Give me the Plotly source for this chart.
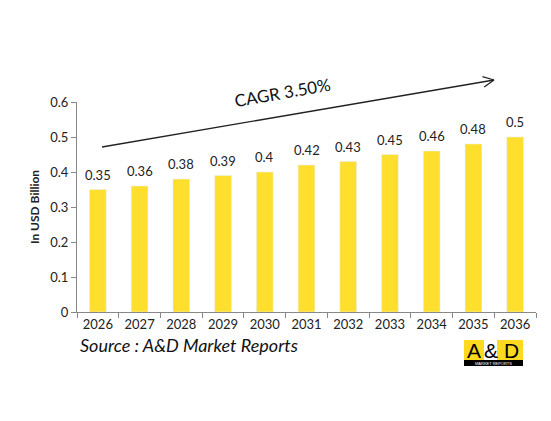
import math
import plotly.graph_objects as go

years = ['2026', '2027', '2028', '2029', '2030', '2031', '2032', '2033', '2034', '2035', '2036']
values = [0.35, 0.36, 0.38, 0.39, 0.4, 0.42, 0.43, 0.45, 0.46, 0.48, 0.5]
value_labels = ['0.35', '0.36', '0.38', '0.39', '0.4', '0.42', '0.43', '0.45', '0.46', '0.48', '0.5']

FONT = 'Lato'
# page body has an 8px margin, so the figure is shifted by it
OFF = 8
W, H = 551, 421
L, R, T, B = 77, 15, 102, 109
PW, PH = W - L - R, H - T - B


def px(x):
  return (x - L) / PW


def py(y):
  return (H - B - y) / PH


def line(x0, y0, x1, y1, width=1.3):
  fig.add_shape(type='line', xref='paper', yref='paper',
                x0=px(x0), y0=py(y0), x1=px(x1), y1=py(y1),
                line=dict(color='#222', width=width))


fig = go.Figure()
fig.add_bar(
  x=years,
  y=values,
  marker_color='#FFDF2E',
  hoverinfo='skip'
)

# value labels above the bars
for i, (v, lab) in enumerate(zip(values, value_labels)):
  fig.add_annotation(x=i, y=v, text=lab, showarrow=False, yshift=15,
                     xanchor='center', yanchor='middle',
                     font=dict(size=13, color='#222'))

fig.update_layout(
  width=W - OFF,
  height=H - OFF,
  margin=dict(l=L - OFF, r=R, t=T - OFF, b=B),
  plot_bgcolor='white',
  paper_bgcolor='white',
  bargap=0.6,
  showlegend=False,
  font=dict(family=FONT, color='#222'),
  xaxis=dict(
    type='category', showline=True, linecolor='#888', ticks='outside',
    tickson='boundaries', ticklen=5, tickcolor='#888', tickfont=dict(size=13)
  ),
  yaxis=dict(
    range=[0, 0.6], dtick=0.1, showgrid=False, showline=True, linecolor='#888',
    ticks='outside', ticklen=5, tickcolor='#888', tickfont=dict(size=13),
    tickformat='.1~f', zeroline=False,
    title=dict(text='<b>In USD Billion</b>', font=dict(size=12), standoff=8)
  )
)

# CAGR arrow with an open head
sx, sy, ex, ey = 102, 147, 494, 80
line(sx, sy, ex, ey)
ang = math.atan2(sy - ey, sx - ex)
for d in (0.45, -0.45):
  line(ex, ey, ex + 12 * math.cos(ang + d), ey + 12 * math.sin(ang + d))

fig.add_annotation(
  xref='paper', yref='paper', x=px(282), y=py(93), text='CAGR 3.50%',
  xanchor='center', yanchor='middle',
  showarrow=False, textangle=-10, font=dict(size=17, color='#111')
)

# source
fig.add_annotation(
  xref='paper', yref='paper', x=px(78), y=py(345), xanchor='left', yanchor='middle',
  text='<i>Source : A&D Market Reports</i>', showarrow=False,
  font=dict(size=18, color='#111')
)

# logo
fig.add_shape(type='rect', xref='paper', yref='paper', x0=px(464), x1=px(523),
              y0=py(360), y1=py(340), fillcolor='#FFD91F', line_width=0)
fig.add_shape(type='rect', xref='paper', yref='paper', x0=px(484), x1=px(497),
              y0=py(360), y1=py(340), fillcolor='white', line_width=0)
fig.add_shape(type='rect', xref='paper', yref='paper', x0=px(464), x1=px(523),
              y0=py(366), y1=py(360), fillcolor='black', line_width=0)
for x, t in [(474, 'A'), (490.5, '&'), (511, 'D')]:
  fig.add_annotation(xref='paper', yref='paper', x=px(x), y=py(350), text=t,
                     xanchor='center', yanchor='middle', showarrow=False,
                     font=dict(size=21, color='black', family='Liberation Sans'))
fig.add_annotation(xref='paper', yref='paper', x=px(493.5), y=py(363), text='MARKET REPORTS',
                   xanchor='center', yanchor='middle', showarrow=False,
                   font=dict(size=4, color='white', family='Liberation Sans'))

fig.write_html('out.html')
